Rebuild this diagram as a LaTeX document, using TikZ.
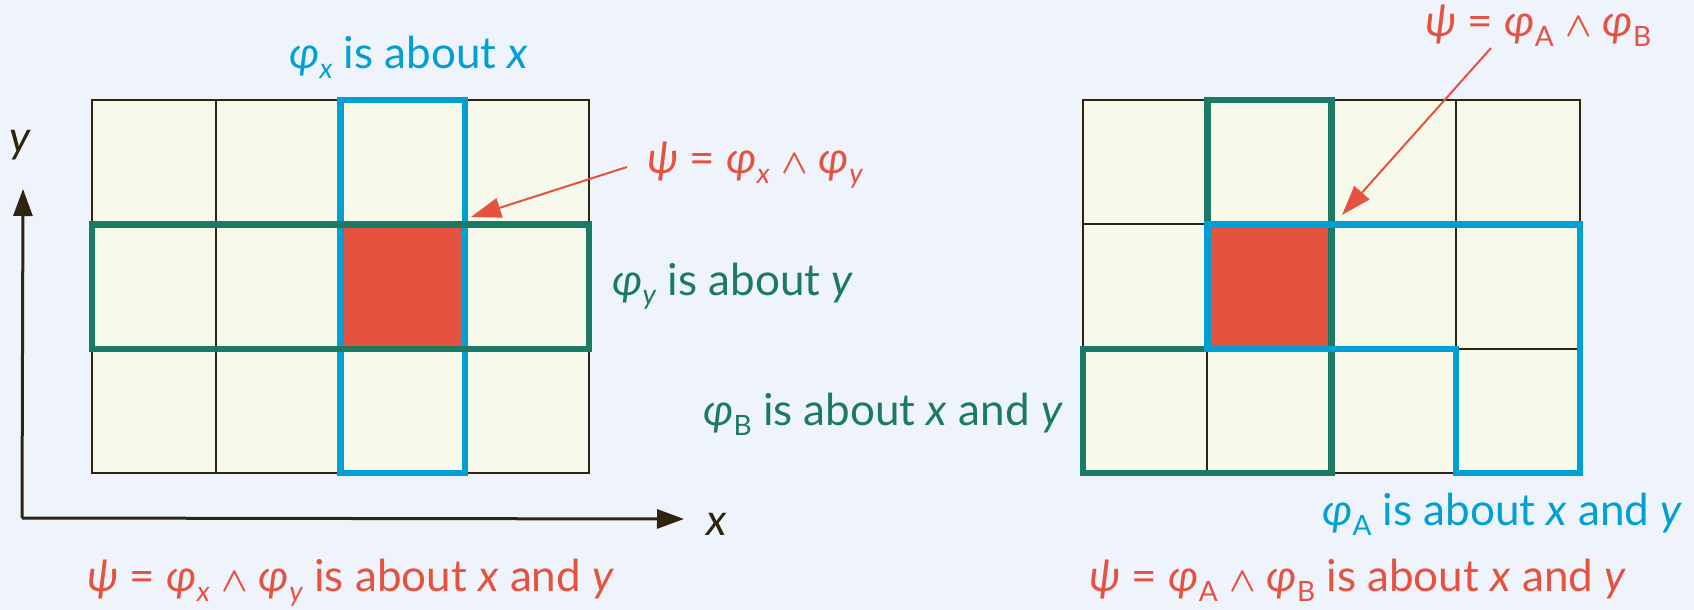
\documentclass[tikz,border=0pt]{standalone}
\usepackage{fontspec}
\setmainfont{Lato}
\usetikzlibrary{arrows.meta}
\definecolor{bgc}{HTML}{EFF4FC}
\definecolor{cellc}{HTML}{F7FAEA}
\definecolor{redc}{HTML}{E65240}
\definecolor{bluec}{HTML}{00A0D4}
\definecolor{tealc}{HTML}{1A7A64}
\definecolor{darkc}{HTML}{2E2410}
\newcommand\lsub[1]{\raisebox{-5pt}{\fontsize{14}{14}\selectfont #1}}
\newcommand\lphi{\textit{φ}}
\newcommand\lpsi{\textit{ψ}}
\newcommand\wedgesym{{\fontsize{19}{19}\selectfont$\boldsymbol{\wedge}$}}
\usepackage{amsmath}
\begin{document}
\begin{tikzpicture}[x=0.5pt,y=-0.5pt,
  lab/.style={inner sep=0pt, anchor=base west, font=\fontsize{22}{26}\selectfont},
  gridline/.style={draw=darkc, line width=1pt},
  border/.style={draw=darkc, line width=1.25pt},
  hlblue/.style={draw=bluec, line width=3.25pt},
  hlteal/.style={draw=tealc, line width=3.25pt},
  axis/.style={draw=darkc, line width=1.5pt, -{Triangle[length=13.5pt,width=9.5pt]}},
  redarrow/.style={draw=redc, line width=1pt, -{Triangle[length=15pt,width=10pt]}}]
\useasboundingbox (0,0) rectangle (1694,610);
\fill[bgc] (0,0) rectangle (1694,610);
% grids
\foreach \gx in {92,1083} {
  \fill[cellc] (\gx,100) rectangle ++(497,373);
  \foreach \i in {1,2,3} \draw[gridline] (\gx+\i*124.25,100) -- ++(0,373);
  \foreach \j in {1,2} \draw[gridline] (\gx,100+\j*124.3) -- ++(497,0);
  \draw[border] (\gx,100) rectangle ++(497,373);
}
% left highlights
\fill[redc] (340.5,224.5) rectangle (464.75,349);
\draw[hlblue] (340.5,100) rectangle (464.75,473);
\draw[hlteal] (92,224.5) rectangle (589,349);
% right highlights
\fill[redc] (1207.25,224.5) rectangle (1331.5,349);
\draw[hlteal] (1207.25,100) -- (1331.5,100) -- (1331.5,473) -- (1083,473) -- (1083,349) -- (1207.25,349) -- cycle;
\draw[hlblue] (1207.25,224.5) -- (1580,224.5) -- (1580,473) -- (1455.75,473) -- (1455.75,349) -- (1207.25,349) -- cycle;
% axes
\coordinate (origin) at (22,518);
\coordinate (ytip) at (23,189);
\coordinate (xtip) at (684,519);
\draw[axis] (origin) -- (ytip);
\draw[axis] (origin) -- (xtip);
\node[lab, text=darkc] (ylab) at (9,153) {\textit{y}};
\node[lab, text=darkc] (xlab) at (706,535) {\textit{x}};
% left labels
\node[lab, text=bluec] (phix) at (289,69) {\lphi\lsub{\textit{x}} is about \textit{x}};
\node[lab, text=redc] (psiL) at (647,174) {\lpsi{} = \lphi\lsub{\textit{x}} \wedgesym{} \lphi\lsub{\textit{y}}};
\node[lab, text=tealc] (phiy) at (612,295) {\lphi\lsub{\textit{y}} is about \textit{y}};
\node[lab, text=redc] (botL) at (87,591) {\lpsi{} = \lphi\lsub{\textit{x}} \wedgesym{} \lphi\lsub{\textit{y}} is about \textit{x} and \textit{y}};
% right labels
\node[lab, text=redc] (psiR) at (1425,37) {\lpsi{} = \lphi\lsub{A} \wedgesym{} \lphi\lsub{B}};
\node[lab, text=tealc] (phiB) at (703,425) {\lphi\lsub{B} is about \textit{x} and \textit{y}};
\node[lab, text=bluec] (phiA) at (1322,525) {\lphi\lsub{A} is about \textit{x} and \textit{y}};
\node[lab, text=redc] (botR) at (1089,591) {\lpsi{} = \lphi\lsub{A} \wedgesym{} \lphi\lsub{B} is about \textit{x} and \textit{y}};
% arrows
\coordinate (startL) at (627,167);
\coordinate (tipL) at (471,217);
\coordinate (startR) at (1491,48);
\coordinate (tipR) at (1342,215);
\draw[redarrow] (startL) -- (tipL);
\draw[redarrow] (startR) -- (tipR);
\end{tikzpicture}
\end{document}
